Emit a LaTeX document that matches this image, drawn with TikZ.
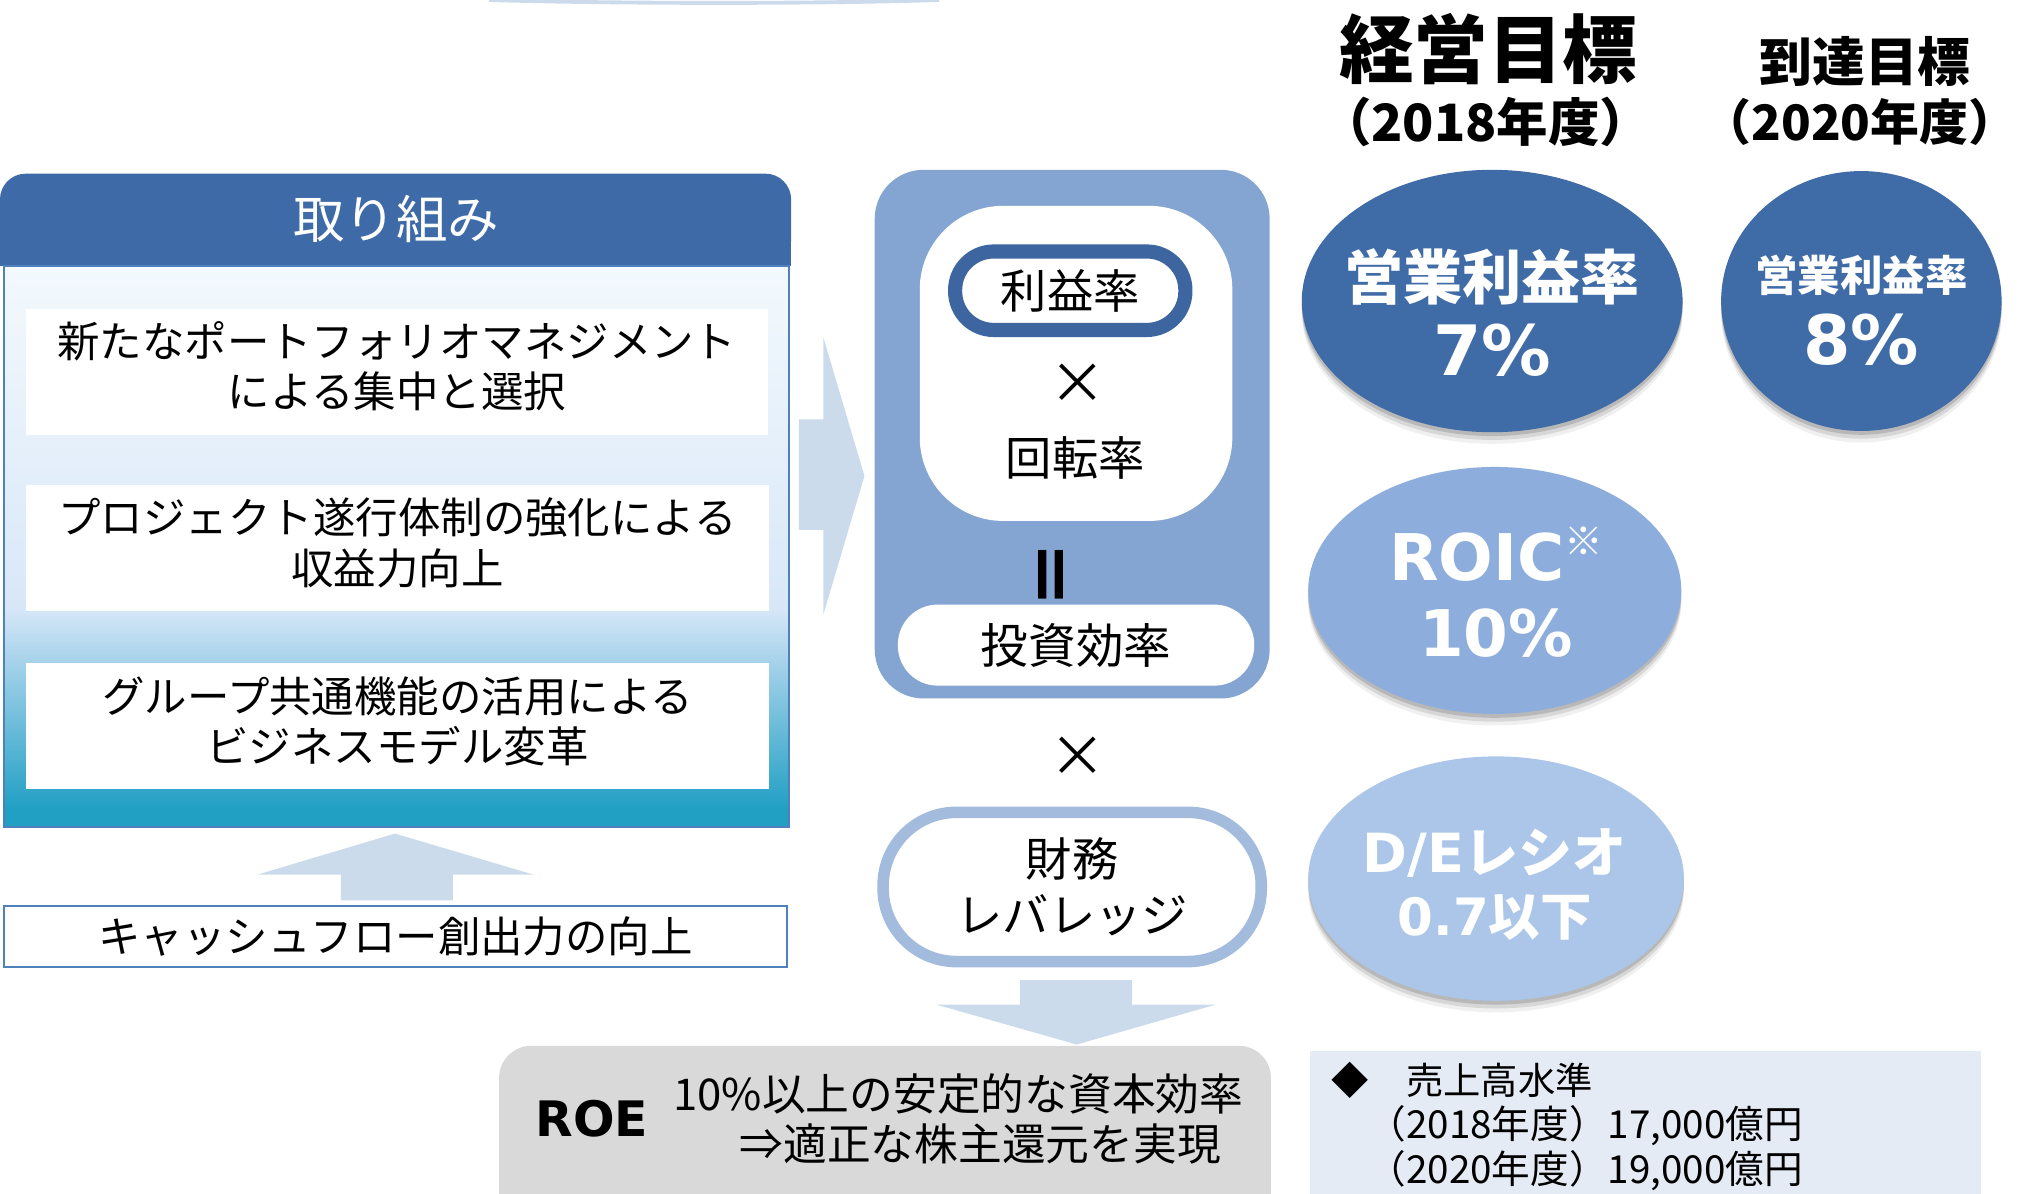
\documentclass[tikz,border=0pt]{standalone}
\usepackage{fontspec}
\setmainfont{Noto Sans CJK JP}
\newfontfamily\lat{DejaVu Sans}
\usetikzlibrary{shapes.geometric,shadows}
\definecolor{hdrblue}{HTML}{3E6AA7}
\definecolor{edgeblue}{HTML}{4F81BD}
\definecolor{arrowfill}{HTML}{CCDBEC}
\definecolor{panelblue}{HTML}{84A5D2}
\definecolor{ringdark}{HTML}{3D66A0}
\definecolor{ringlight}{HTML}{A3BBDC}
\definecolor{roegray}{HTML}{D9D9D9}
\definecolor{notebg}{HTML}{E5EBF5}
\definecolor{ovaldark}{HTML}{3F6BA6}
\definecolor{ovalmid}{HTML}{8DAEDD}
\definecolor{ovallight}{HTML}{ABC6E9}
\definecolor{gA}{HTML}{F3F9FD}
\definecolor{gB}{HTML}{D8E7F8}
\definecolor{gC}{HTML}{A5D2EA}
\definecolor{gD}{HTML}{22A0C4}
\newcommand{\setfs}[2]{\fontsize{#1}{#2}\selectfont}
\begin{document}
\begin{tikzpicture}[x=1pt,y=-1pt,
  whitebox/.style={fill=white, minimum width=577pt, minimum height=98pt, inner sep=0pt},
  boxtext/.style={inner sep=0pt, align=center, font=\setfs{33}{39}},
  plain/.style={inner sep=0pt, align=center},
  oval/.style={ellipse, inner sep=0pt,
    general shadow={shadow yshift=-9pt, opacity=0.06, fill=black},
    general shadow={shadow yshift=-6pt, opacity=0.10, fill=black},
    general shadow={shadow yshift=-3pt, opacity=0.14, fill=black}},
  ovaltext/.style={inner sep=0pt, text=white, align=center},
  blockarrow/.style={fill=arrowfill}
]
\fill[white] (0,0) rectangle (1568,928);
\useasboundingbox (0,0) rectangle (1568,928);

% faint arc at the top
\draw[arrowfill, line width=3pt] (380,0) .. controls (480,3) and (640,3) .. (730,0);

% ---------- left panel ----------
\fill[hdrblue, rounded corners=20pt] (0,135) rectangle (615,207);
\fill[hdrblue] (0,180) rectangle (615,207);
\node[plain, text=white, font=\setfs{40}{40}] (hdrtext) at (308,170) {取り組み};

\shade[top color=gA, bottom color=gB] (3,207) rectangle (613,472);
\shade[top color=gB, bottom color=gC] (3,472) rectangle (613,515);
\shade[top color=gC, bottom color=gD] (3,515) rectangle (613,628);
\fill[gD] (3,628) rectangle (613,643);
\draw[edgeblue, line width=1.5pt] (3,207) rectangle (613,643);

\node[whitebox] (box1) at (308.5,289) {};
\node[boxtext] (box1t) at ([yshift=4pt]box1.center) {新たなポートフォリオマネジメント\\による集中と選択};
\node[whitebox] (box2) at (309,426) {};
\node[boxtext] (box2t) at ([yshift=4pt]box2.center) {プロジェクト遂行体制の強化による\\収益力向上};
\node[whitebox] (box3) at (309,564.5) {};
\node[boxtext] (box3t) at ([yshift=4pt]box3.center) {グループ共通機能の活用による\\ビジネスモデル変革};

\fill[blockarrow] (265,700) -- (265,680) -- (200,680) -- (307,648) -- (415,680) -- (352,680) -- (352,700) -- cycle;
\node[draw=edgeblue, line width=1.5pt, fill=white, minimum width=609pt, minimum height=48pt, inner sep=0pt, font=\setfs{33}{33}] (cash) at (307.5,728) {キャッシュフロー創出力の向上};

% right arrow
\fill[blockarrow] (621,326) -- (640,326) -- (640,262) -- (672,370) -- (640,478) -- (640,412) -- (621,412) -- cycle;

% ---------- centre panel ----------
\node[fill=panelblue, rounded corners=38pt, minimum width=307pt, minimum height=411pt, inner sep=0pt] (panel) at (833.5,337.5) {};
\node[fill=white, rounded corners=65pt, minimum width=243pt, minimum height=245pt, inner sep=0pt] (inner) at (836.5,282.5) {};
\node[draw=ringdark, line width=11pt, fill=white, rounded corners=30pt, minimum width=179pt, minimum height=61pt, inner sep=0pt, font=\setfs{36}{36}] (rieki) at (832,226) {利益率};
\node[plain, font=\setfs{44}{44}] (times1) at (838,298) {×};
\node[plain, font=\setfs{36}{36}] (kaiten) at (836,356) {回転率};
\node[plain, font=\bfseries\setfs{54}{54}, rotate=90] (equal) at (823,447) {＝};
\node[fill=white, rounded corners=31pt, minimum width=277pt, minimum height=63pt, inner sep=0pt, font=\setfs{37}{37}] (toshi) at (836.5,501.5) {投資効率};
\node[plain, font=\setfs{44}{44}] (times2) at (838,588) {×};
\node[draw=ringlight, line width=9pt, fill=white, rounded corners=57pt, minimum width=294pt, minimum height=116pt, inner sep=0pt, align=center, font=\setfs{36}{44}] (zaimu) at (833.5,689.5) {財務\\レバレッジ};

\fill[blockarrow] (793,762) -- (880,762) -- (880,781) -- (945,781) -- (837,812) -- (728,781) -- (793,781) -- cycle;

% ---------- bottom ----------
\fill[roegray, rounded corners=25pt] (388,813) rectangle (988,960);
\node[plain, font=\lat\bfseries\setfs{38}{38}] (roe) at (460,870) {ROE};
\node[plain, font=\setfs{34}{34}] (roe1) at (745,850) {10\%以上の安定的な資本効率};
\node[plain, font=\setfs{34}{34}] (roe2) at (762,889) {⇒適正な株主還元を実現};

\fill[notebg] (1018,817) rectangle (1540,960);
\node[plain, anchor=west, font=\setfs{29}{29}] (n0) at (1035,840) {◆　売上高水準};
\node[plain, anchor=west, font=\setfs{30}{30}] (n1) at (1063,875) {（2018年度）17,000億円};
\node[plain, anchor=west, font=\setfs{30}{30}] (n2) at (1063,910) {（2020年度）19,000億円};

% ---------- right: targets ----------
\node[plain, font=\bfseries\setfs{58}{58}] (t1) at (1157,38) {経営目標};
\node[plain, font=\bfseries\setfs{40}{40}] (t1y) at (1155,95) {（2018年度）};
\node[plain, font=\bfseries\setfs{41}{41}] (t2) at (1450,48) {到達目標};
\node[plain, font=\bfseries\setfs{38}{38}] (t2y) at (1446,95) {（2020年度）};

\node[oval, fill=ovaldark, minimum width=296pt, minimum height=204pt] (o1) at (1160,234) {};
\node[ovaltext, font=\bfseries\setfs{46}{46}] (o1a) at (1160,215) {営業利益率};
\node[ovaltext, font=\lat\bfseries\setfs{54}{54}] (o1b) at (1160,272) {7\%};

\node[oval, fill=ovaldark, minimum width=218pt, minimum height=202pt] (o2) at (1447,234) {};
\node[ovaltext, font=\bfseries\setfs{33}{33}] (o2a) at (1447,214) {営業利益率};
\node[ovaltext, font=\lat\bfseries\setfs{53}{53}] (o2b) at (1447,264) {8\%};

\node[oval, fill=ovalmid, minimum width=290pt, minimum height=192pt] (o3) at (1162,459) {};
\node[ovaltext, font=\lat\bfseries\setfs{50}{50}] (o3a) at (1163,433) {ROIC\smash{\raisebox{19pt}{\rmfamily\mdseries\setfs{30}{30}※}}};
\node[ovaltext, font=\lat\bfseries\setfs{50}{50}] (o3b) at (1163,492) {10\%};

\node[oval, fill=ovallight, minimum width=292pt, minimum height=190pt] (o4) at (1163,683) {};
\node[ovaltext, font=\bfseries\setfs{42}{42}] (o4a) at (1162,663) {{\lat D/E}レシオ};
\node[ovaltext, font=\bfseries\setfs{40}{40}] (o4b) at (1162,713) {{\lat 0.7}以下};
\end{tikzpicture}
\end{document}
